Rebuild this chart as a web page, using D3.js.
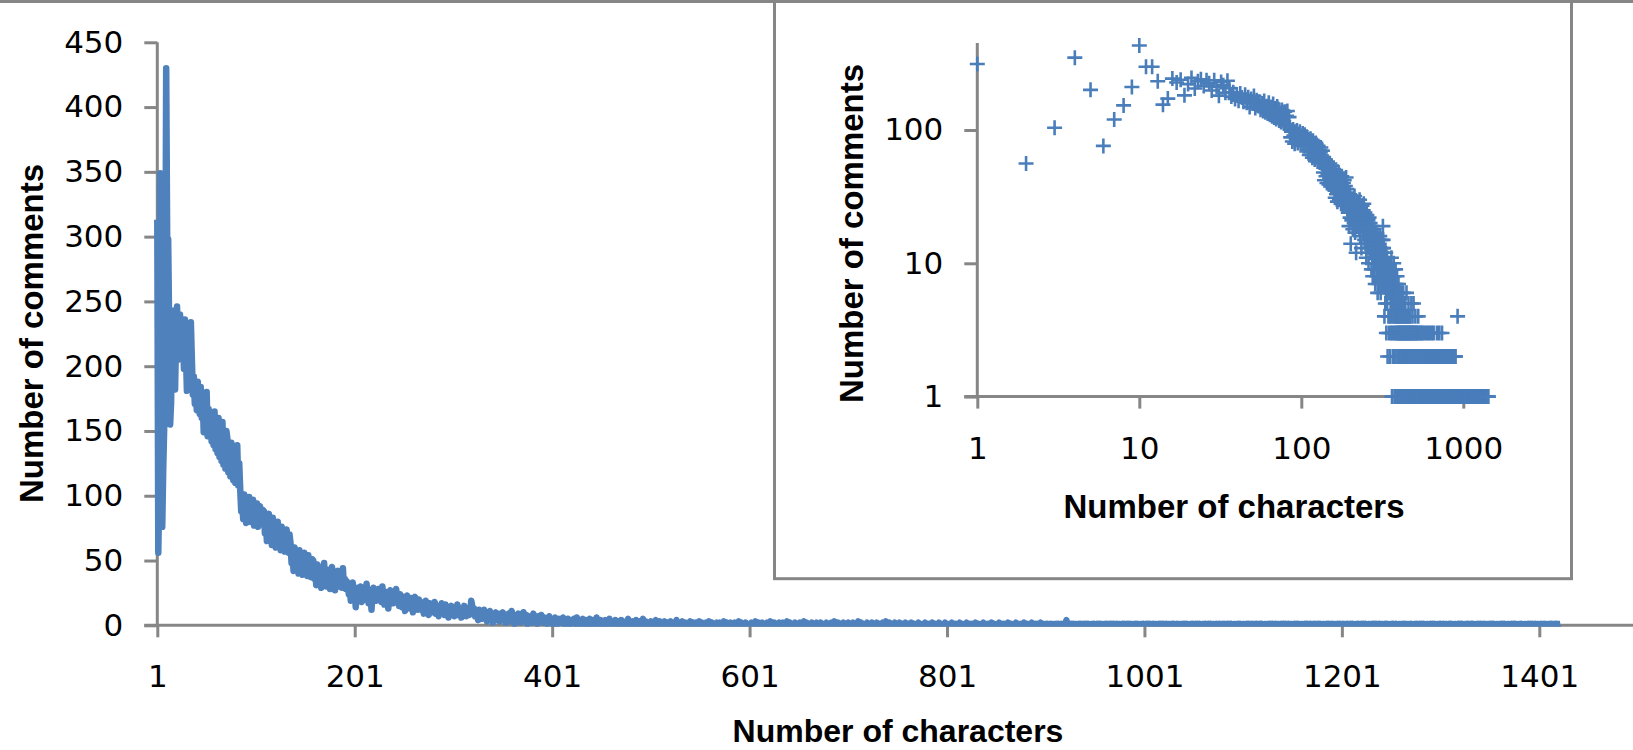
<!DOCTYPE html>
<html><head><meta charset="utf-8">
<script src="https://cdn.jsdelivr.net/npm/d3@7"></script>
<style>body{margin:0;background:#fff}</style>
</head><body>
<svg id="c" width="1633" height="750"></svg>
<script>
// Number of comments for each comment length (characters)
const countsHead = [313,56,104,349,200,76,120,153,210,430,298,298,232,155,172,
 243,227,238,182,221,246,205,232,240,214,236,
 224,198,236,210,181,229,217,190,234,206,178,
 192,171,185,166,188,175,163,
 184,160,176,149,171,158,180,146,167,152,
 163,142,158,139,165,136,151,133,160,130,148,127,157,124,145,121,150,
 144,118,133,115,141,122,112,137,110,128,139,108,125];
const countsMid = [105,88,97,82,101,91,79,96,86,99,80,93,84,97,77,90,85,94,76,88,92,78,86,89,
 88,71,82,65,79,86,68,75,62,83,70,77,60,73,80,64,69,58,76,66,71,57,68,74,61,56,70,
 63,48,57,42,60,52,45,55,40,58,47,53,39,50,56,44,49,38,54,43,47,37,51,
 50,36,44,31,47,40,33,45,29,42,38,48,34,30,43,37,41,28,39,45,32,36,27,40,35,42,30,33,38,29,44,31,36,28,34,
 31,24,28,19,26,33,22,27,14,25,29,21,24,30,18,26,23,28,20,32,25,17,27,22,12,24,29,20,26,19,
 23,28,21,25,18,30,22,16,26,20,24,13,22,27,19,23,17,25,21,28,18,22,15,24,
 20,14,22,17,11,19,23,15,18,13,21,16,10,19,22,14,17,12,20,15,
 18,12,16,9,14,19,11,15,8,17,13,10,16,12,18,9,14,11,7,15,13,17,10,12,8,16,11,14,6,13,
 10,15,9,12,7,14,11,16,8,10,13,6,12,9,15,11,7,10,13,8,11,
 19,15,10,13,7,11,9,4,12,8,10,5,9,12,6,8,3,10,7,11,5,8,2,9,6,10,4,7,8,3,9,
 6,10,4,8,2,7,5,9,3,6,11,4,7,1,8,5,3,9,6,2,7,4,10,5,3,8,1,6,4,7,2,5,9,3,6,4,1,7,5,3,8];
const countsLow = [4,2,6,3,5,1,4,7,2,3,5,0,4,6,2,3,1,5,3,4,2,6,1,3,4,0,5,2,3,1,
 4,2,5,3,1,6,2,4,3,0,2,5,1,3,4,2,0,3,5,1,2,4,3,1,2,6,0,3,2,4,
 1,3,2,0,4,2,1,3,5,2,1,0,3,2,4,1,2,3,0,2,4,1,3,2,1,0,2,5,1,3,
 2,1,3,0,2,4,1,2,0,3,1,2,5,0,1,3,2,1,0,2,3,1,0,2,1,4,0,1,2,3,
 1,0,2,1,3,0,1,2,1,0,3,2,1,0,1,2,4,0,1,2,0,1,3,1,0,2,1,0,2,1,
 3,0,1,2,0,1,2,1,0,3,1,0,2,1,0,1,2,0,1,3,0,1,2,0,1,1,0,2,1,0,
 2,1,0,1,3,0,1,2,0,1,0,2,1,0,1,2,0,1,0,3,1,0,2,1,0,1,2,0,1,0,
 1,0,2,1,0,1,3,0,1,2,0,1,0,2,1,0,1,0,2,1,0,3,1,0,1,2,0,1,0,1,2,0,1,0,2,1,0,1,3,0,
 1,2,0,1,0,1,2,1,0,0,1,2,0,1,0,3,1,0,2,0,1,0,1,2,0,1,0,0,2,1,0,1,2,0,1,0,1,0,2,1,
 0,1,0,2,0,1,3,0,1,0,2,1,0,0,1,2,0,1,0,1,2,0,1,0,0,2,1,0,1,0,3,0,1,2,0,1,0,0,1,2,
 0,1,0,1,2,0,0,1,0,2,1,0,1,0,0,2,1,0,3,0,1,0,2,0,1,0,1,2,0,0,1,0,2,1,0,1,0,0,2,1,
 0,1,0,0,2,1,0,1,0,0,1,2,0,1,0,0,1,0,2,1,0,0,1,0,1,2,0,0,1,0,1,0,2,0,1,0,0,1,2,0,
 1,0,0,1,0,2,1,0,0,1,0,1,0,2,0,1,0,0,1,0,2,1,0,0,1,0,1,0,0,2,1,0,1,0,0,1,0,2,0,1,
 0,0,1,0,1,2,0,0,1,0,0,1,0,2,1,0,0,1,0,1,0,0,2,1,0,1,0,0,1,0,2,0,1,0,0,1,0,1,2,0,
 0,1,0,0,1,0,2,1,0,0,1,0,1,0,0,2,0,1,0,1];
const countsTail = [1,0,1,0,0,1,0,1,1,0,0,1,0,1,0,0,1,0,1,0,1,4,0,1,0,0,1,0,1,0,1,1,0,0,1,0,1,0,0,1,
 0,1,0,1,0,0,1,1,0,1,0,0,1,0,1,0,1,0,0,1,1,0,1,0,0,1,0,1,0,1,0,0,1,0,1,1,0,0,1,0,
 1,0,0,1,0,1,0,1,1,0,0,1,0,1,0,0,1,1,0,1,0,0,1,0,1,0,1,0,0,1,0,1,1,0,0,1,0,1,0,1,
 0,0,1,0,1,1,0,0,1,0,1,0,0,1,0,1,1,0,0,1,0,1,0,1,0,0,1,1,0,1,0,0,1,0,1,0,1,0,0,1,
 1,0,1,0,0,1,0,1,0,1,1,0,0,1,0,0,1,0,1,1,0,1,0,0,1,0,1,0,1,0,0,1,1,0,0,1,0,1,0,0,
 1,1,0,0,1,0,1,0,0,1,0,1,1,0,1,0,0,1,0,1,0,0,1,1,0,0,1,0,1,0,1,0,0,1,0,1,1,0,0,1,
 0,1,0,1,0,0,1,0,1,1,0,0,1,0,1,0,1,0,0,1,1,0,0,1,0,1,0,0,1,0,1,1,0,1,0,0,1,0,1,0,
 0,1,1,0,0,1,0,1,0,0,1,0,1,1,0,0,1,0,1,0,0,1,0,1,1,0,1,0,0,1,0,1,0,0,1,1,0,1,0,0,
 1,0,1,0,1,0,0,1,1,0,0,1,0,1,0,1,0,0,1,0,1,1,0,0,1,0,1,0,0,1,1,0,1,0,0,1,0,0,1,1,
 0,0,1,0,1,0,1,1,0,0,1,0,0,1,1,0,1,0,0,1,0,1,0,1,0,0,1,1,0,0,1,0,1,0,1,0,0,1,1,0,
 1,0,0,1,0,1,1,0,0,1,0,1,0,0,1,1,0,0,1,0,1,0,1,0,0,1,1,0,1,0,0,1,0,1,0,0,1,1,0,1,
 0,1,0,0,1,0,1,1,0,0,1,0,1,0,1,0,0,1,1,0,0,1,0,1,0,1,0,0,1,1,0,0,1,0,1,0,1,0,0,1,
 1,0,1,0,0,1,1,0,0,1,0,1,0,1,0,0,1,0,1,1,0,0,1,0,0,1,0,1,1,0,0,1,0,1,0,0,1,0,1,0,
 1,1];
const counts = [].concat(countsHead, countsMid, countsLow, countsTail);
const lengths = counts.map((d, i) => i + 1);

const mainXTicks = [1, 201, 401, 601, 801, 1001, 1201, 1401];
const mainYTicks = [0, 50, 100, 150, 200, 250, 300, 350, 400, 450];
const insetXTicks = [1, 10, 100, 1000];
const insetYTicks = [1, 10, 100];
const xTitle = "Number of characters";
const yTitle = "Number of comments";

const blue = "#4F81BD", gray = "#868686";
const tickFont = "'DejaVu Sans', Verdana, sans-serif";
const titleFont = "'Liberation Sans', Arial, sans-serif";
const svg = d3.select("#c");

// border line at top
svg.append("line").attr("x1", 0).attr("x2", 1633).attr("y1", 1.5).attr("y2", 1.5)
  .attr("stroke", gray).attr("stroke-width", 3);

// ---------- main chart ----------
const x = d3.scaleLinear().domain([1, 1401]).range([157.3, 1539.3]);
const y = d3.scaleLinear().domain([0, 450]).range([625.3, 42.3]);

function styleAxis(g, isX) {
  g.select(".domain").remove();
  g.selectAll(".tick line").attr("stroke", gray).attr("stroke-width", 3);
  g.selectAll(".tick text").attr("fill", "#000").style("font-family", tickFont).style("font-size", "31px");
  if (isX) g.selectAll(".tick text").attr("y", 62).attr("dy", 0);
}

svg.append("g").attr("transform", `translate(0,${y(0)})`)
  .call(d3.axisBottom(x).tickValues(mainXTicks).tickSize(12).tickFormat(d3.format("d")))
  .call(g => styleAxis(g, true));
svg.append("g").attr("transform", `translate(${x(1)},0)`)
  .call(d3.axisLeft(y).tickValues(mainYTicks).tickSize(13).tickPadding(21).tickFormat(d3.format("d")))
  .call(g => styleAxis(g, false));
svg.append("line").attr("x1", x(1) - 13).attr("x2", 1633).attr("y1", y(0)).attr("y2", y(0))
  .attr("stroke", gray).attr("stroke-width", 3);
svg.append("line").attr("x1", x(1)).attr("x2", x(1)).attr("y1", y(0) + 1.5).attr("y2", y(450))
  .attr("stroke", gray).attr("stroke-width", 3);

svg.append("clipPath").attr("id", "mainClip").append("rect")
  .attr("x", 140).attr("y", 0).attr("width", 1500).attr("height", 626.8);
svg.append("path").datum(counts)
  .attr("clip-path", "url(#mainClip)")
  .attr("fill", "none").attr("stroke", blue).attr("stroke-width", 6.5)
  .attr("stroke-linejoin", "round")
  .attr("d", d3.line().x((d, i) => x(lengths[i])).y(d => y(d)));

svg.append("text").attr("x", 898).attr("y", 742).attr("text-anchor", "middle")
  .style("font-family", titleFont).style("font-weight", "bold").style("font-size", "32px")
  .text(xTitle);
svg.append("text").attr("transform", "translate(43,333.5) rotate(-90)").attr("text-anchor", "middle")
  .style("font-family", titleFont).style("font-weight", "bold").style("font-size", "33px")
  .text(yTitle);

// ---------- inset ----------
svg.append("rect").attr("x", 774.5).attr("y", 1.5).attr("width", 797).attr("height", 577.2)
  .attr("fill", "#fff").attr("stroke", gray).attr("stroke-width", 3);

const ix = d3.scaleLog().domain([1, 1500]).range([977.3, 977.3 + 162 * Math.log10(1500)]);
const iy = d3.scaleLog().domain([1, 450]).range([396.6, 396.6 - 133.3 * Math.log10(450)]);

svg.append("g").attr("transform", `translate(0,${iy(1)})`)
  .call(d3.axisBottom(ix).tickValues(insetXTicks).tickSize(12).tickFormat(d3.format("d")))
  .call(g => styleAxis(g, true));
svg.append("g").attr("transform", `translate(${ix(1)},0)`)
  .call(d3.axisLeft(iy).tickValues(insetYTicks).tickSize(13).tickPadding(21).tickFormat(d3.format("d")))
  .call(g => styleAxis(g, false));
svg.append("line").attr("x1", ix(1) - 13).attr("x2", ix(1500)).attr("y1", iy(1)).attr("y2", iy(1))
  .attr("stroke", gray).attr("stroke-width", 3);
svg.append("line").attr("x1", ix(1)).attr("x2", ix(1)).attr("y1", iy(1) + 1.5).attr("y2", iy(450))
  .attr("stroke", gray).attr("stroke-width", 3);

const pts = counts.map((c, i) => ({ len: lengths[i], c })).filter(d => d.c > 0);
svg.append("g").selectAll("path").data(pts).join("path")
  .attr("transform", d => `translate(${ix(d.len)},${iy(d.c)})`)
  .attr("d", "M-7.5,0H7.5M0,-7.5V7.5")
  .attr("stroke", "#4A7EBB").attr("stroke-width", 2.6).attr("fill", "none");

svg.append("text").attr("x", 1234).attr("y", 518).attr("text-anchor", "middle")
  .style("font-family", titleFont).style("font-weight", "bold").style("font-size", "33px")
  .text(xTitle);
svg.append("text").attr("transform", "translate(863.3,233.5) rotate(-90)").attr("text-anchor", "middle")
  .style("font-family", titleFont).style("font-weight", "bold").style("font-size", "33px")
  .text(yTitle);
</script>
</body></html>
